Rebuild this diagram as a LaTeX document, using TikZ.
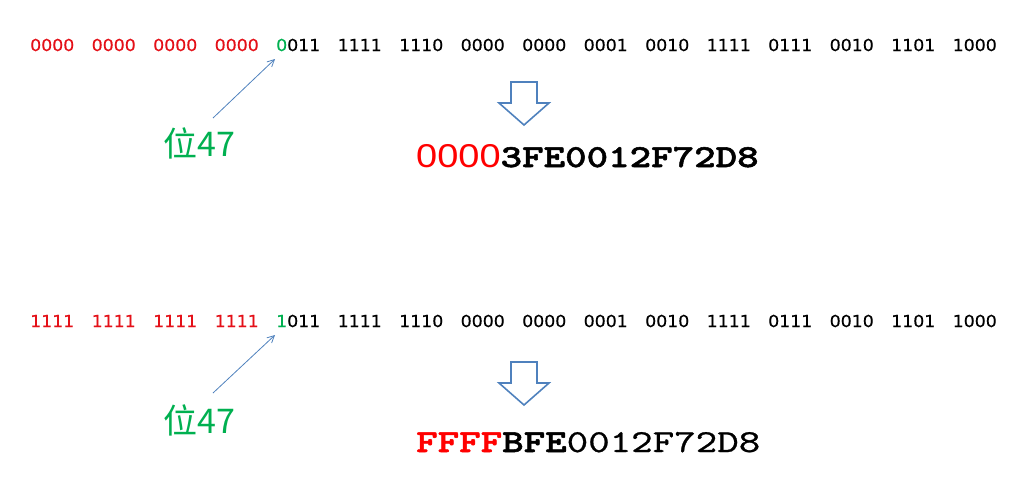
\documentclass[tikz,border=0pt]{standalone}
\usepackage{fontspec}
\usetikzlibrary{arrows.meta}
\newfontfamily\bitfont[FakeStretch=1.05,FakeBold=0.6]{DejaVu Sans}
\newfontfamily\hexfont[FakeStretch=1.28,FakeBold=0.8,BoldFont=lmmonolt10-bold.otf,BoldFeatures={FakeStretch=1.28,FakeBold=1.6}]{lmmono10-regular.otf}
\newfontfamily\zerofont[FakeStretch=1.15]{Liberation Sans}
\newfontfamily\cjkfont{Noto Sans CJK SC}
\definecolor{bitred}{RGB}{228,16,24}
\definecolor{hexred}{RGB}{255,0,0}
\definecolor{bitgreen}{RGB}{0,176,80}
\definecolor{arrowblue}{RGB}{79,129,189}
\tikzset{
  bits/.style={anchor=base west, inner sep=0pt, font=\bitfont\fontsize{16.5}{16.5}\selectfont},
  hex/.style={anchor=base west, inner sep=0pt, font=\hexfont\fontsize{32}{32}\selectfont},
  bitlabel/.style={inner sep=0pt, text=bitgreen, font=\cjkfont\fontsize{34}{34}\selectfont},
  pointer/.style={arrowblue, line width=0.8pt, -{Straight Barb[length=7pt,width=7pt]}},
  downarrow/.style={arrowblue, line width=1.6pt, line join=miter},
}
\begin{document}
\begin{tikzpicture}[x=1pt,y=-1pt]
    \useasboundingbox (0,0) rectangle (1024,480);

    % Zeile 1: positive Zahl
    \foreach \g [count=\i from 0] in {0000,0000,0000,0000}
        \node[bits, text=bitred] (za\i) at (30+61.5*\i,51) {\g};
    \node[bits] (za4) at (30+61.5*4,51) {\textcolor{bitgreen}{0}011};
    \foreach \g [count=\i from 5] in {1111,1110,0000,0000,0001,0010,1111,0111,0010,1101,1000}
        \node[bits] (za\i) at (30+61.5*\i,51) {\g};

    \node[bitlabel] (la) at (199,143) {位47};
    \coordinate (pa) at (213,118);
    \coordinate (qa) at (275,59);
    \draw[pointer] (pa) -- (qa); % Bit 47

    \draw[downarrow] (511,82) -- (537,82) -- (537,103) -- (549,103) -- (524,125)
        -- (499,103) -- (511,103) -- cycle;
    \node[hex] (ha) at (416,167) {\textcolor{hexred}{\zerofont\fontsize{33}{33}\selectfont 0000}\textbf{3FE0012F72D8}};

    % Zeile 2: negative Zahl
    \foreach \g [count=\i from 0] in {1111,1111,1111,1111}
        \node[bits, text=bitred] (zb\i) at (30+61.5*\i,327) {\g};
    \node[bits] (zb4) at (30+61.5*4,327) {\textcolor{bitgreen}{1}011};
    \foreach \g [count=\i from 5] in {1111,1110,0000,0000,0001,0010,1111,0111,0010,1101,1000}
        \node[bits] (zb\i) at (30+61.5*\i,327) {\g};

    \node[bitlabel] (lb) at (199,420) {位47};
    \coordinate (pb) at (213,393);
    \coordinate (qb) at (275,335);
    \draw[pointer] (pb) -- (qb); % Bit 47

    \draw[downarrow] (511,362) -- (537,362) -- (537,383) -- (549,383) -- (524,405)
        -- (499,383) -- (511,383) -- cycle;
    \node[hex] (hb) at (416,452) {\textbf{\textcolor{hexred}{FFFF}BFE}0012F72D8};
\end{tikzpicture}
\end{document}
